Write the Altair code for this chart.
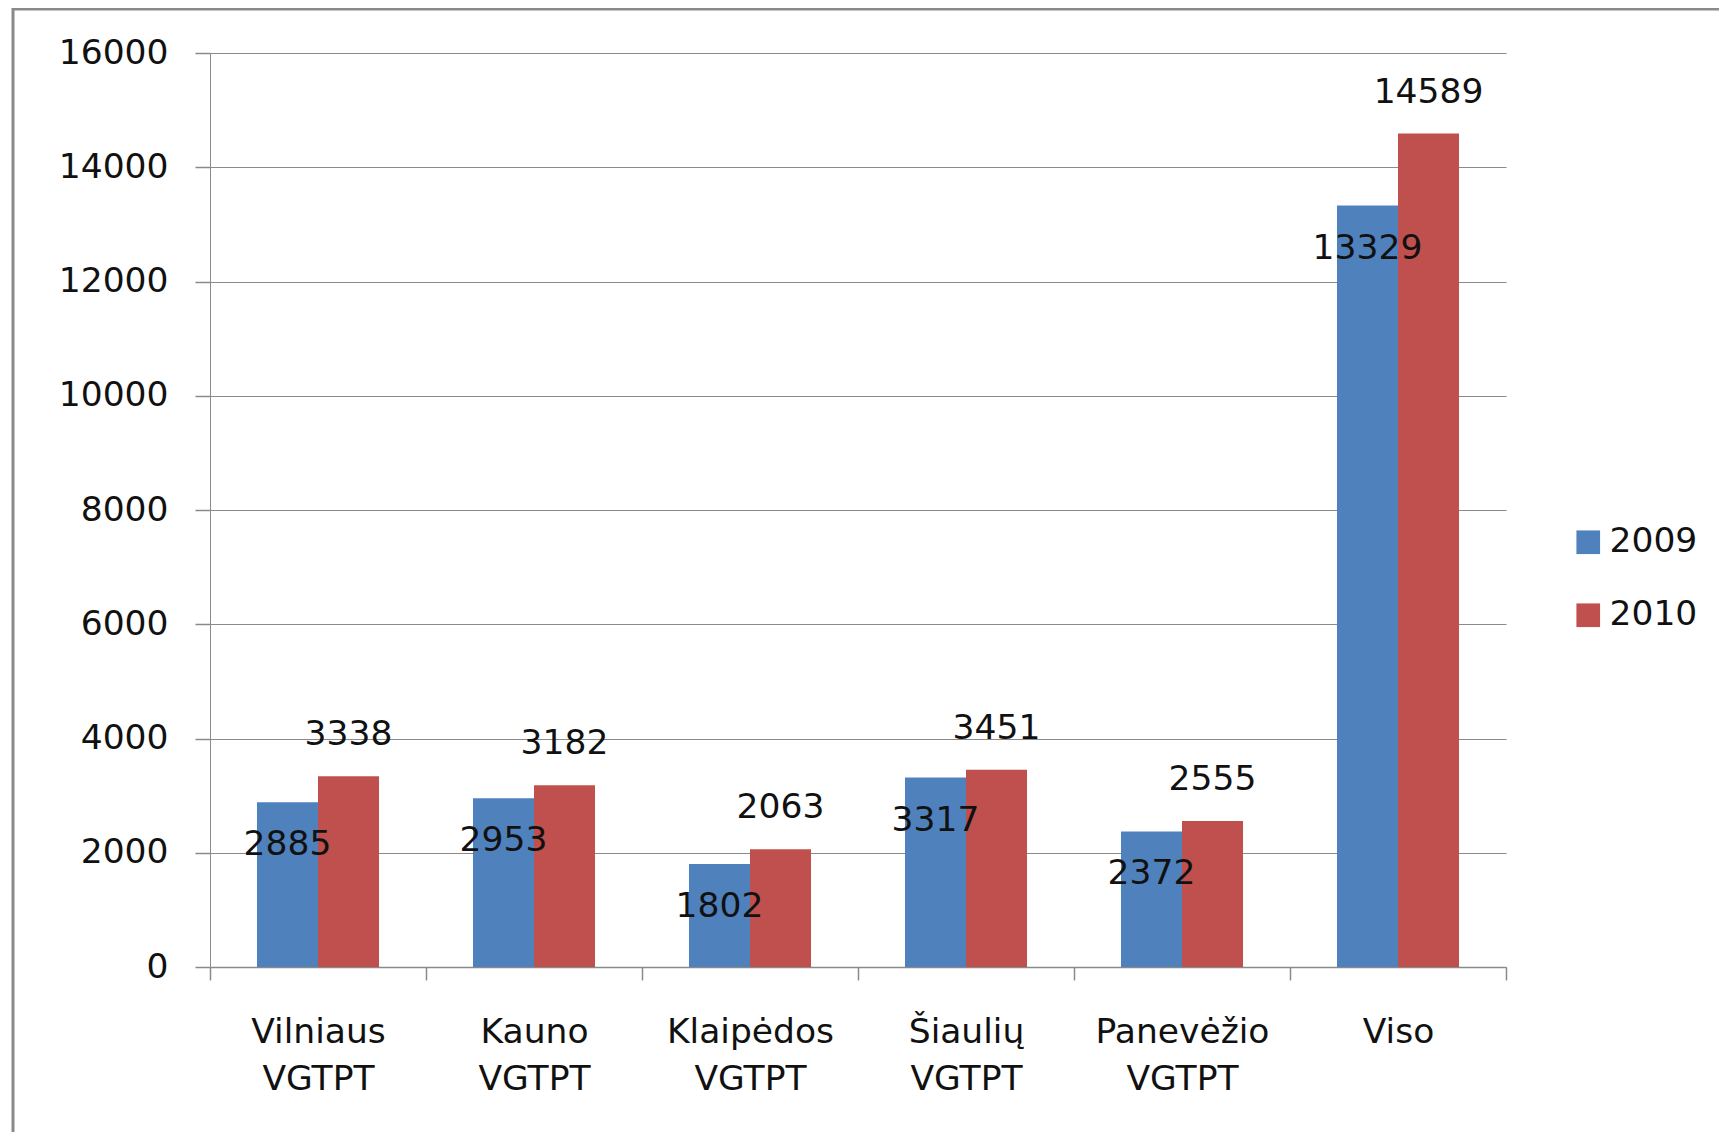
import altair as alt
import pandas as pd

categories = ["Vilniaus VGTPT", "Kauno VGTPT", "Klaipėdos VGTPT",
              "Šiaulių VGTPT", "Panevėžio VGTPT", "Viso"]
years = ["2009", "2010"]
values_2009 = [2885, 2953, 1802, 3317, 2372, 13329]
values_2010 = [3338, 3182, 2063, 3451, 2555, 14589]
y_ticks = [0, 2000, 4000, 6000, 8000, 10000, 12000, 14000, 16000]
colors = ["#4F81BD", "#C0504D"]

rows = []
for c, v in zip(categories, values_2009):
    rows.append({"category": c, "year": "2009", "value": v})
for c, v in zip(categories, values_2010):
    rows.append({"category": c, "year": "2010", "value": v})
df = pd.DataFrame(rows)

FONT = "DejaVu Sans"
FS = 34.5
GREY = "#8a8a8a"

x_enc = alt.X(
    "category:N", sort=categories,
    scale=alt.Scale(paddingInner=0, paddingOuter=0),
    axis=alt.Axis(title=None, labelAngle=0, labelExpr="split(datum.label, ' ')",
                  tickBand="extent", tickSize=13, labelPadding=35,
                  labelLineHeight=47, labelBaseline="top", grid=False,
                  domainWidth=1.5),
)
xo_enc = alt.XOffset("year:N", sort=years,
                     scale=alt.Scale(paddingInner=0, paddingOuter=0.77))
y_enc = alt.Y(
    "value:Q",
    scale=alt.Scale(domain=[0, 16000], nice=False),
    axis=alt.Axis(title=None, values=y_ticks, format="d", tickSize=15,
                  labelPadding=27, grid=True),
)

base = alt.Chart(df)

bars = base.mark_bar(strokeWidth=0).encode(
    x=x_enc, xOffset=xo_enc, y=y_enc,
    color=alt.Color("year:N", sort=years,
                    scale=alt.Scale(domain=years, range=colors),
                    legend=alt.Legend(title=None, orient="none", legendX=1361,
                                      legendY=472, symbolType="square",
                                      symbolSize=560, symbolStrokeWidth=0,
                                      labelFontSize=FS, labelFont=FONT,
                                      labelColor="#111111", labelOffset=4,
                                      rowPadding=38, padding=0)),
)

text_2009 = base.transform_filter(alt.datum.year == "2009").mark_text(
    dy=43, font=FONT, fontSize=FS, color="#111111", baseline="middle"
).encode(x=x_enc, xOffset=xo_enc, y=y_enc, text=alt.Text("value:Q", format="d"))

text_2010 = base.transform_filter(alt.datum.year == "2010").mark_text(
    dy=-41, font=FONT, fontSize=FS, color="#111111", baseline="middle"
).encode(x=x_enc, xOffset=xo_enc, y=y_enc, text=alt.Text("value:Q", format="d"))

frame = alt.Chart(pd.DataFrame({"k": [0]})).mark_rect(
    fill="white", fillOpacity=0, stroke=GREY, strokeWidth=3
).encode(x=alt.value(-197), x2=alt.value(3000), y=alt.value(-44), y2=alt.value(3000))

chart = alt.layer(frame, bars, text_2009, text_2010).properties(
    width=1296, height=914,
    autosize=alt.AutoSizeParams(type="none"),
    padding={"left": 202, "top": 45, "right": 213, "bottom": 165},
).configure_view(stroke=None).configure_axis(
    labelFont=FONT, labelFontSize=FS, labelColor="#111111",
    domainColor=GREY, tickColor=GREY, gridColor=GREY, gridWidth=1,
    tickWidth=1.5,
)

chart.save("out.html", embed_options={"renderer": "svg", "actions": False})
